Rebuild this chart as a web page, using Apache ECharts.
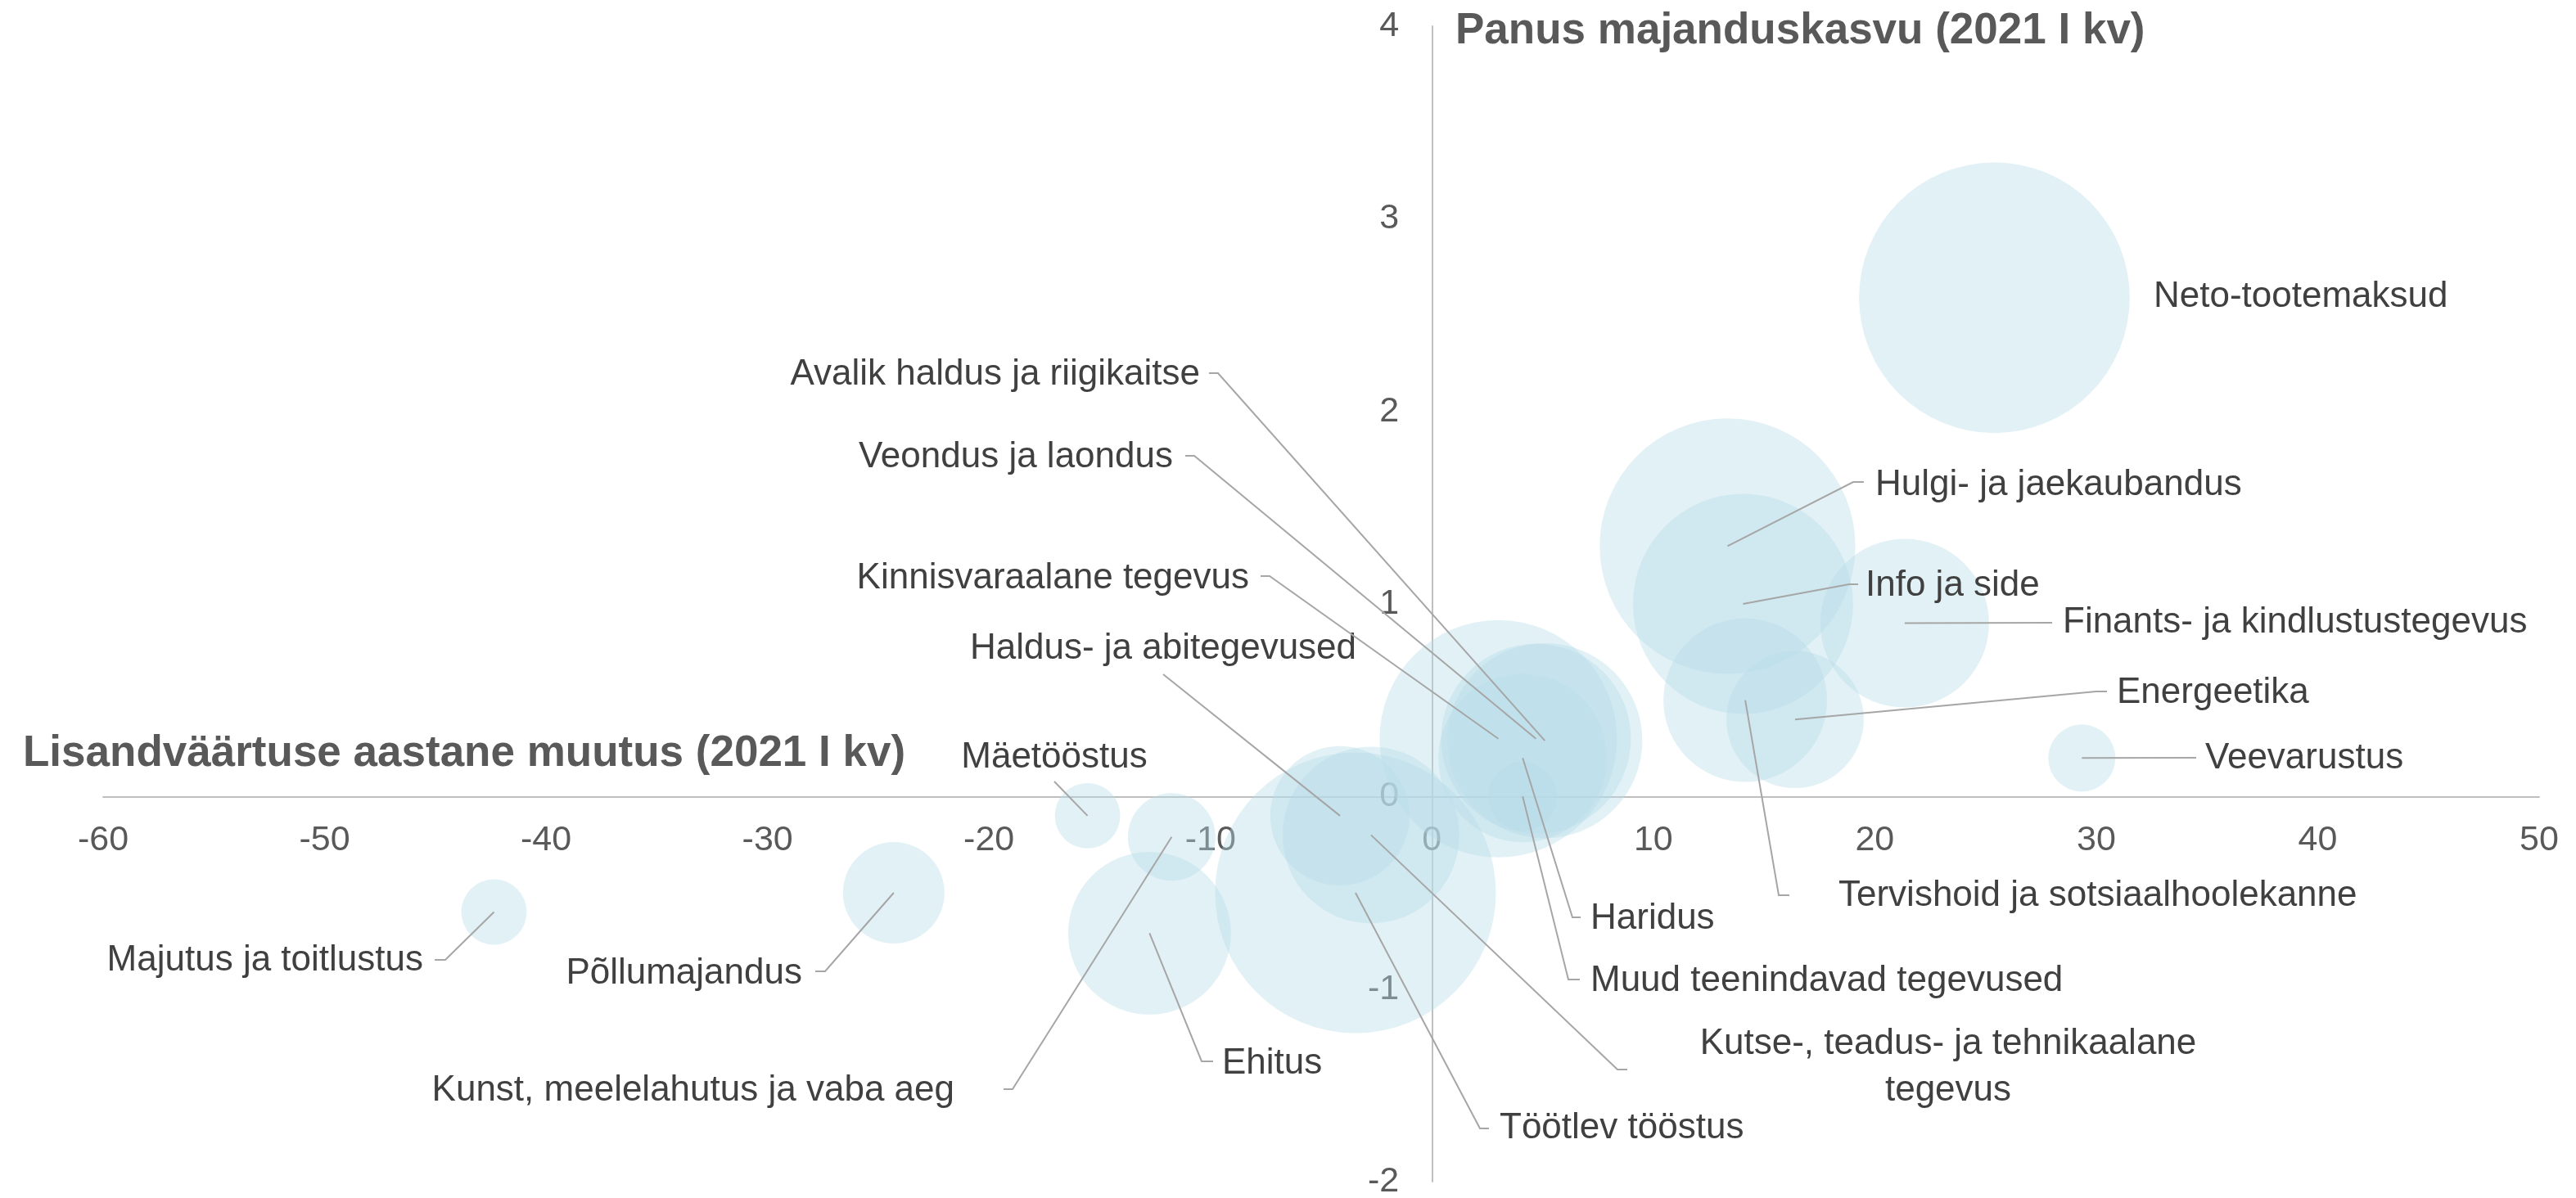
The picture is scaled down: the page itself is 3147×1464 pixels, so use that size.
<!DOCTYPE html>
<html>
<head>
<meta charset="utf-8">
<title>Panus majanduskasvu</title>
<script src="https://cdn.jsdelivr.net/npm/echarts@6/dist/echarts.min.js"></script>
<style>
  html, body { margin: 0; padding: 0; background: #fff; }
  #chart { width: 3147px; height: 1464px; }
</style>
</head>
<body>
<div id="chart"></div>
<script>
// andmed
const names = [
  'Neto-tootemaksud',
  'Hulgi- ja jaekaubandus',
  'Info ja side',
  'Finants- ja kindlustustegevus',
  'Energeetika',
  'Veevarustus',
  'Tervishoid ja sotsiaalhoolekanne',
  'Haridus',
  'Muud teenindavad tegevused',
  'Kutse-, teadus- ja tehnikaalane\ntegevus',
  'Töötlev tööstus',
  'Haldus- ja abitegevused',
  'Kinnisvaraalane tegevus',
  'Veondus ja laondus',
  'Avalik haldus ja riigikaitse',
  'Mäetööstus',
  'Kunst, meelelahutus ja vaba aeg',
  'Ehitus',
  'Põllumajandus',
  'Majutus ja toitlustus'
]
// lisandväärtuse aastane muutus, %
const growth = [25.4, 13.35, 14.05, 21.35, 16.4, 29.35, 14.15, 4.1, 4.1, -2.75,
  -3.45, -4.15, 3.0, 4.7, 5.1, -15.55, -11.75, -12.75, -24.3, -42.35]
// panus majanduskasvu, pp
const contribution = [2.59, 1.30, 1.0, 0.90, 0.40, 0.20, 0.50, 0.20, 0.0, -0.20,
  -0.50, -0.10, 0.30, 0.30, 0.29, -0.10, -0.21, -0.71, -0.50, -0.60]
// osakaal (mulli suurus)
const weights = [13.0, 11.6, 8.6, 5.05, 3.35, 0.8, 4.75, 5.05, 0.84, 5.55,
  14.0, 3.45, 10.0, 6.4, 6.75, 0.76, 1.36, 4.7, 1.83, 0.76]

const xTicks = { min: -60, max: 50, interval: 10 }
const yTicks = { min: -2, max: 4, interval: 1 }

// siltide paigutus (px): tekst, joone murdepunkt, lühike horisontaalne ots
const labelPlace = [
  { tx: 2631, ty: 363, align: 'left' },
  { tx: 2291, ty: 593, align: 'left', ex: 2264, ey: 589, sx: 2277 },
  { tx: 2279, ty: 716, align: 'left', ex: 2259, ey: 714, sx: 2270 },
  { tx: 2520, ty: 761, align: 'left', ex: 2507, ey: 761 },
  { tx: 2586, ty: 847, align: 'left', ex: 2561, ey: 845, sx: 2574 },
  { tx: 2694, ty: 927, align: 'left', ex: 2683, ey: 926 },
  { tx: 2246, ty: 1095, align: 'left', ex: 2173, ey: 1094, sx: 2186 },
  { tx: 1943, ty: 1123, align: 'left', ex: 1921, ey: 1121, sx: 1931 },
  { tx: 1943, ty: 1199, align: 'left', ex: 1916, ey: 1197, sx: 1930 },
  { tx: 2380, ty: 1304, align: 'center', ex: 1976, ey: 1307, sx: 1988 },
  { tx: 1832, ty: 1379, align: 'left', ex: 1808, ey: 1379, sx: 1819 },
  { tx: 1421, ty: 793, align: 'center', ex: 1421, ey: 824 },
  { tx: 1526, ty: 707, align: 'right', ex: 1551, ey: 704, sx: 1540 },
  { tx: 1433, ty: 559, align: 'right', ex: 1459, ey: 557, sx: 1448 },
  { tx: 1466, ty: 458, align: 'right', ex: 1488, ey: 456, sx: 1477 },
  { tx: 1288, ty: 926, align: 'center', ex: 1288, ey: 955 },
  { tx: 1166, ty: 1333, align: 'right', ex: 1237, ey: 1331, sx: 1226 },
  { tx: 1493, ty: 1300, align: 'left', ex: 1468, ey: 1297, sx: 1482 },
  { tx: 980, ty: 1190, align: 'right', ex: 1008, ey: 1187, sx: 996 },
  { tx: 517, ty: 1174, align: 'right', ex: 544, ey: 1173, sx: 531 }
]

const FONT = '"Liberation Sans", Arial, sans-serif'
const bubbleScale = 91.7 // läbimõõt px / sqrt(osakaal)

const W = 3147
const H = 1464
const gridBox = { left: 126, right: 45, top: 32, bottom: 20 }
const plotW = W - gridBox.left - gridBox.right
const plotH = H - gridBox.top - gridBox.bottom
// teljed nulli kohale (sildid liiguvad koos joonega)
const xAxisOffset = -plotH * (0 - yTicks.min) / (yTicks.max - yTicks.min)
const yAxisOffset = -plotW * (0 - xTicks.min) / (xTicks.max - xTicks.min)

const points = names.map((n, i) => [growth[i], contribution[i], weights[i], i])

const chart = echarts.init(document.getElementById('chart'))

// sildid ja juhtjooned
const renderLabel = (params, api) => {
  const i = api.value(3)
  const c = api.coord([api.value(0), api.value(1)])
  const p = labelPlace[i]
  const children = []
  if (p.ex !== undefined) {
    const pts = [c, [p.ex, p.ey]]
    if (p.sx !== undefined) pts.push([p.sx, p.ey])
    children.push({
      type: 'polyline',
      shape: { points: pts },
      style: { stroke: '#a6a6a6', lineWidth: 2, fill: null }
    })
  }
  children.push({
    type: 'text',
    x: p.tx,
    y: p.ty,
    style: {
      text: names[i],
      fill: '#404040',
      fontSize: 44,
      fontFamily: FONT,
      align: p.align,
      verticalAlign: 'middle',
      lineHeight: 57
    }
  })
  return { type: 'group', children }
}

chart.setOption({
  animation: false,
  backgroundColor: '#ffffff',
  title: [
    {
      text: 'Lisandväärtuse aastane muutus (2021 I kv)',
      left: 28,
      top: 895,
      padding: 0,
      textStyle: { fontSize: 53, fontWeight: 'bold', color: '#595959', fontFamily: FONT }
    },
    {
      text: 'Panus majanduskasvu (2021 I kv)',
      left: 1778,
      top: 12,
      padding: 0,
      textStyle: { fontSize: 53, fontWeight: 'bold', color: '#595959', fontFamily: FONT }
    }
  ],
  grid: {
    left: gridBox.left,
    right: gridBox.right,
    top: gridBox.top,
    bottom: gridBox.bottom,
    containLabel: false,
    outerBoundsMode: 'none'
  },
  xAxis: {
    type: 'value',
    position: 'bottom',
    offset: xAxisOffset,
    min: xTicks.min,
    max: xTicks.max,
    interval: xTicks.interval,
    axisLine: { onZero: false, lineStyle: { color: '#bfbfbf', width: 2 } },
    axisTick: { show: false },
    splitLine: { show: false },
    axisLabel: { color: '#595959', fontSize: 43, fontFamily: FONT, margin: 32 }
  },
  yAxis: {
    type: 'value',
    position: 'left',
    offset: yAxisOffset,
    min: yTicks.min,
    max: yTicks.max,
    interval: yTicks.interval,
    axisLine: { onZero: false, lineStyle: { color: '#bfbfbf', width: 2 } },
    axisTick: { show: false },
    splitLine: { show: false },
    axisLabel: { color: '#595959', fontSize: 43, fontFamily: FONT, margin: 40 }
  },
  series: [
    {
      type: 'scatter',
      data: points,
      symbol: 'circle',
      symbolSize: val => bubbleScale * Math.sqrt(val[2]),
      itemStyle: { color: 'rgba(183, 221, 232, 0.5)', borderWidth: 0 },
      emphasis: { disabled: true },
      silent: true,
      z: 2
    },
    {
      type: 'custom',
      data: points,
      renderItem: renderLabel,
      silent: true,
      z: 5
    }
  ]
})

window.addEventListener('resize', () => chart.resize())
</script>
</body>
</html>
